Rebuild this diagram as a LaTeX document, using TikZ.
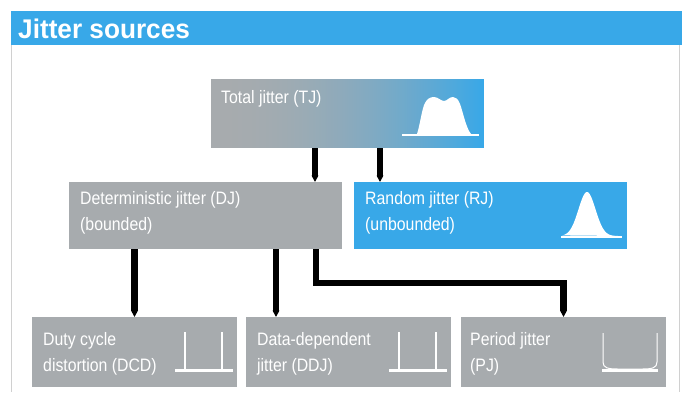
\documentclass[tikz,border=0pt]{standalone}
\usepackage{fontspec}
\setmainfont[FakeStretch=0.88]{Liberation Sans}
\newfontfamily\titlefont[FakeStretch=0.97]{Liberation Sans}
\usetikzlibrary{arrows.meta}
\definecolor{jblue}{HTML}{38A8E8}
\definecolor{jgray}{HTML}{A7ABAE}
\definecolor{jborder}{HTML}{D0D0D0}
\begin{document}
\begin{tikzpicture}[x=1pt,y=-1pt,
  box/.style={rectangle, inner sep=0pt, outer sep=0pt, anchor=north west, draw=none},
  graybox/.style={box, fill=jgray, minimum width=273pt, minimum height=67pt},
  bluebox/.style={box, fill=jblue, minimum width=273pt, minimum height=67pt},
  lowbox/.style={box, fill=jgray, minimum width=205pt, minimum height=70pt},
  lbl/.style={anchor=base west, inner sep=0pt, text=white, align=left, font={\fontsize{18}{26}\selectfont}},
  conn/.style={line width=6.5pt, line join=miter, -{Triangle[width=0pt 1,length=0pt 1]}},
  iconline/.style={white, line width=2pt},
  iconbase/.style={white, line width=3pt}
]
\useasboundingbox (0,0) rectangle (687,392);
\fill[white] (0,0) rectangle (687,392);
% frame
\draw[jborder, line width=1.5pt] (11.5,45) -- (11.5,392);
\draw[jborder, line width=1.5pt] (679.5,45) -- (679.5,392);
% header
\node[box, fill=jblue, minimum width=671pt, minimum height=34pt] (head) at (10.5,11) {};
\node[anchor=base west, inner sep=0pt, text=white, font={\titlefont\bfseries\fontsize{27}{30}\selectfont}] (title) at (18,38) {Jitter sources};
% total jitter gradient (gray -> blue)
\foreach \i in {0,...,272} {
  \pgfmathsetmacro\w{100*(\i/272)*(\i/272)}
  \fill[jblue!\w!jgray] (211+\i,79) rectangle (212.3+\i,148);
}
\node[box, minimum width=273pt, minimum height=69pt] (tj) at (211,79) {};
\node[graybox] (dj) at (69,182) {};
\node[bluebox] (rj) at (354,182) {};
\node[lowbox] (dcd) at (32,317) {};
\node[lowbox] (ddj) at (246,317) {};
\node[lowbox] (pj) at (461,317) {};
% labels (anchor = baseline of last line)
\node[lbl] (tjt) at (221,103) {Total jitter (TJ)};
\node[lbl] (djt) at (80,230) {Deterministic jitter (DJ)\\(bounded)};
\node[lbl] (rjt) at (365,230) {Random jitter (RJ)\\(unbounded)};
\node[lbl] (dcdt) at (43,371) {Duty cycle\\distortion (DCD)};
\node[lbl] (ddjt) at (257,371) {Data-dependent\\jitter (DDJ)};
\node[lbl] (pjt) at (470,371) {Period jitter\\(PJ)};
% icons
\fill[white] (417,134) .. controls (420,125) and (422,108) .. (425,103)
  .. controls (427,99) and (430,97) .. (434,97)
  .. controls (438,97) and (441,101) .. (444,101)
  .. controls (447,101) and (449,97) .. (453,97)
  .. controls (456,97) and (458,99) .. (460,104)
  .. controls (463,112) and (466,128) .. (471,134) -- cycle;
\draw[iconline] (402,134.5) -- (479,134.5);
\fill[white] plot[domain=-25:31, samples=80, smooth] ({587+\x}, {236-44*exp(-(\x*\x)/145)}) -- cycle;
\draw[iconline] (561,237) -- (622,237);
\draw[iconline] (185,332) -- (185,370);
\draw[iconline] (222,332) -- (222,370);
\draw[iconbase] (175,370) -- (233,370);
\draw[iconline] (399,332) -- (399,370);
\draw[iconline] (436,332) -- (436,370);
\draw[iconbase] (389,370) -- (447,370);
\draw[white, line width=1pt] (603,333) -- (603,362) .. controls (603,368) and (608,369) .. (618,369) -- (642,369) .. controls (652,369) and (657,368) .. (657,362) -- (657,333);
\draw[iconbase] (602,370) -- (658,370);
% connectors
\path ([xshift=-27pt]dj.north east) coordinate (tjdj);
\path ([xshift=26pt]rj.north west) coordinate (tjrj);
\path ([xshift=30pt]ddj.north west) coordinate (ddjin);
\path ([xshift=-26pt]dj.south east) coordinate (djpj);
\path (djpj) ++(0,34) coordinate (bend);
\draw[conn] (tj.south -| tjdj) -- (tjdj);
\draw[conn] (tj.south -| tjrj) -- (tjrj);
\draw[conn] (dj.south -| dcd.north) -- (dcd.north);
\draw[conn] (dj.south -| ddjin) -- (ddjin);
\draw[conn] (djpj) -- (bend) -| (pj.north);
\end{tikzpicture}
\end{document}
